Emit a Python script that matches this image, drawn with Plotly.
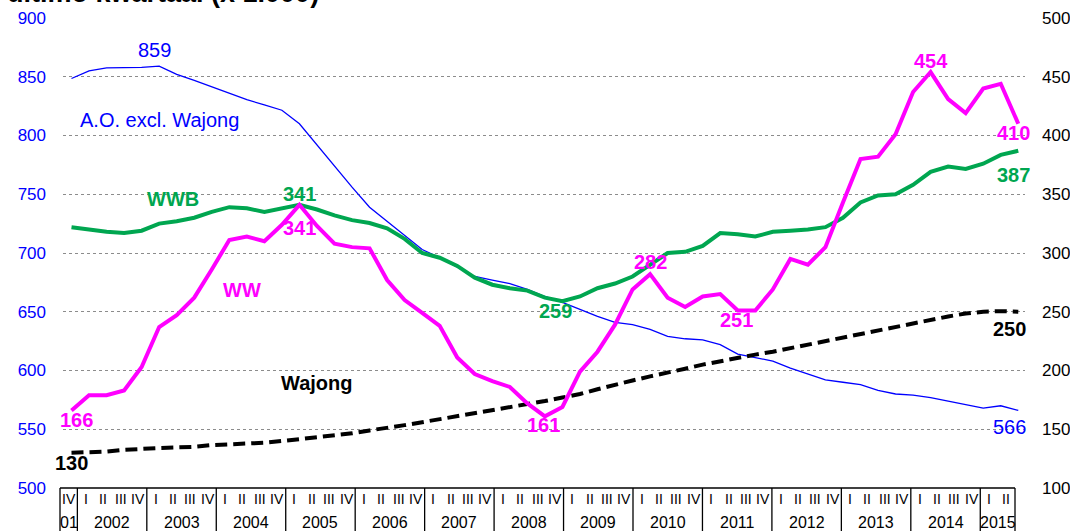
import plotly.graph_objects as go

# ---------------- data ----------------
quarter_labels = ["IV"] + ["I", "II", "III", "IV"] * 13 + ["I", "II"]
year_labels = ["01"] + [str(y) for y in range(2002, 2015)] + ["2015"]
year_quarters = [1] + [4] * 13 + [2]

ao_excl_wajong = [848.5, 855, 857.5, 857.5, 858, 859, 852, 847, 841.5, 836, 830.5, 826, 821.5, 810,
                  792, 774, 756, 739, 727, 715, 703, 696, 688, 680, 677, 674, 669, 663, 658, 652,
                  646, 641, 639, 635, 629, 627, 626, 622, 614, 611, 608, 602, 597, 592, 590, 588,
                  583, 580, 579, 577, 574, 571, 568, 570, 566]
ww = [166, 179, 179, 183, 203, 237, 247, 262, 286, 311, 314, 310, 324, 341, 323, 308, 305, 304,
      277, 260, 249, 238, 211, 197, 191, 186, 172, 161, 169, 199, 216, 239, 269, 282, 262, 254,
      263, 265, 251, 251, 269, 295, 290, 305, 343, 380, 382, 401, 437, 454, 431, 419, 440, 444, 410]
wwb = [322, 320, 318, 317, 319, 325, 327, 330, 335, 339, 338, 335, 338, 341, 337, 332, 328, 325.5,
       321, 312, 300, 296, 289, 279, 273, 270, 268, 262, 259, 263, 270, 274, 280, 290, 300, 301,
       306, 317, 316, 314, 318, 319, 320, 322, 330, 343, 349, 350, 358, 369, 373.5, 371.5, 376,
       383.5, 387]
wajong = [130, 130.5, 131, 132.5, 133.5, 134, 134.5, 135, 136.5, 137, 137.5, 138.5, 140, 141.5,
          143, 144.5, 146.5, 149, 151, 153.5, 156, 158.5, 161, 163.5, 166, 168.5, 171, 174, 177,
          180, 184, 188, 191.5, 195, 198, 201.5, 205, 208, 210.5, 213.5, 216, 219, 222, 225, 228,
          231, 234.5, 237.5, 240.5, 243.5, 246, 248.5, 250, 250.5, 250]

x = list(range(len(ww)))

# ---------------- layout geometry ----------------
W, H = 1070, 531
L, R, T, B = 63, 1025, 18, 488
FONT = "Liberation Sans, Arial, sans-serif"
BLUE, PINK, GREEN = "#0000FF", "#FF00FF", "#00A650"


def paper_x(px):
    return (px - L) / (R - L)


def paper_y(py):
    return (B - py) / (B - T)


fig = go.Figure()
fig.add_trace(go.Scatter(x=x, y=ao_excl_wajong, mode="lines", yaxis="y",
                         line=dict(color=BLUE, width=1.3), cliponaxis=False, hoverinfo="skip"))
fig.add_trace(go.Scatter(x=x, y=wwb, mode="lines", yaxis="y2",
                         line=dict(color=GREEN, width=4), cliponaxis=False, hoverinfo="skip"))
fig.add_trace(go.Scatter(x=x, y=wajong, mode="lines", yaxis="y2",
                         line=dict(color="black", width=4, dash="12px,6px"), cliponaxis=False,
                         hoverinfo="skip"))
fig.add_trace(go.Scatter(x=x, y=ww, mode="lines", yaxis="y2",
                         line=dict(color=PINK, width=4), cliponaxis=False, hoverinfo="skip"))

step = 17.533
x0px = 71.5
xr = [-(x0px - L) / step, (R - x0px) / step]

ann = []


def add(text, xv, yv, color, yref="y2", bold=True, size=20, xanchor="center", yanchor="middle"):
    ann.append(dict(text=f"<b>{text}</b>" if bold else text, x=xv, y=yv, xref="x", yref=yref,
                    showarrow=False, xanchor=xanchor, yanchor=yanchor,
                    font=dict(family=FONT, size=size, color=color)))


# series labels and values
add("859", 4.75, 873, BLUE, yref="y", bold=False)
add("A.O. excl. Wajong", 0.37, 813, BLUE, yref="y", bold=False, xanchor="left")
add("WWB", 4.19, 346, GREEN, xanchor="left")
add("341", 13, 350, GREEN)
add("341", 13, 321, PINK)
add("WW", 9.74, 268.5, PINK)
add("166", 0.31, 158, PINK)
add("Wajong", 14.0, 189.5, "black")
add("130", 0, 121.7, "black")
add("259", 27.6, 251, GREEN)
add("161", 26.9, 153.6, PINK)
add("282", 33.0, 292.6, PINK)
add("251", 37.9, 243, PINK)
add("454", 49.0, 463.8, PINK)
add("410", 53.7, 402, PINK)
add("387", 53.7, 366.4, GREEN)
add("250", 53.5, 235.3, "black")
add("566", 53.5, 551.5, BLUE, yref="y", bold=False)

# title (partially cut off at top, as in the reference)
ann.append(dict(text="<b>ultimo kwartaal (x 1.000)</b>", x=paper_x(5), y=paper_y(10.5), xref="paper",
                yref="paper", xanchor="left", yanchor="bottom", showarrow=False,
                font=dict(family=FONT, size=27, color="black")))

# category axis box below the plot
cat_left, cat_right = 60, 1015
n_q = len(quarter_labels)
qw = (cat_right - cat_left) / n_q
shapes = [dict(type="line", xref="paper", yref="paper", x0=paper_x(cat_left), x1=paper_x(cat_right),
               y0=0, y1=0, line=dict(color="black", width=1.3))]
shapes.append(dict(type="line", xref="paper", yref="paper", x0=paper_x(cat_left), x1=paper_x(cat_left),
                   y0=0, y1=paper_y(H + 2), line=dict(color="black", width=1.3)))
for k, lab in enumerate(quarter_labels):
    cx = cat_left + qw * (k + 0.5)
    ann.append(dict(text=lab, x=paper_x(cx), y=paper_y(499), xref="paper", yref="paper",
                    showarrow=False, xanchor="center", yanchor="middle",
                    font=dict(family=FONT, size=14, color="black")))
start = 0
for lab, nq in zip(year_labels, year_quarters):
    end = start + nq
    cx = cat_left + qw * (start + end) / 2
    ann.append(dict(text=lab, x=paper_x(cx), y=paper_y(522), xref="paper", yref="paper",
                    showarrow=False, xanchor="center", yanchor="middle",
                    font=dict(family=FONT, size=16, color="black")))
    ex = cat_left + qw * end
    shapes.append(dict(type="line", xref="paper", yref="paper", x0=paper_x(ex), x1=paper_x(ex),
                       y0=0, y1=paper_y(H + 2), line=dict(color="black", width=1.3)))
    start = end

fig.update_layout(
    width=W, height=H, autosize=False,
    margin=dict(l=L, r=W - R, t=T, b=H - B, pad=0),
    paper_bgcolor="white", plot_bgcolor="white",
    showlegend=False,
    font=dict(family=FONT),
    xaxis=dict(range=xr, visible=False, showgrid=False, zeroline=False, automargin=False),
    yaxis=dict(range=[500, 900], dtick=50, tick0=500, showgrid=True, gridcolor="#8c8c8c",
               griddash="dot", gridwidth=1, zeroline=False, showline=False, ticks="",
               automargin=False, ticklabelstandoff=16,
               tickfont=dict(family=FONT, size=17, color=BLUE)),
    yaxis2=dict(range=[100, 500], dtick=50, tick0=100, overlaying="y", side="right",
                showgrid=False, zeroline=False, showline=False, ticks="", automargin=False,
                ticklabelstandoff=16, tickfont=dict(family=FONT, size=17, color="black")),
    annotations=ann,
    shapes=shapes,
)

fig.write_html("out.html", config={"displayModeBar": False},
               post_script="document.body.style.margin='0';document.body.style.overflow='hidden';")
